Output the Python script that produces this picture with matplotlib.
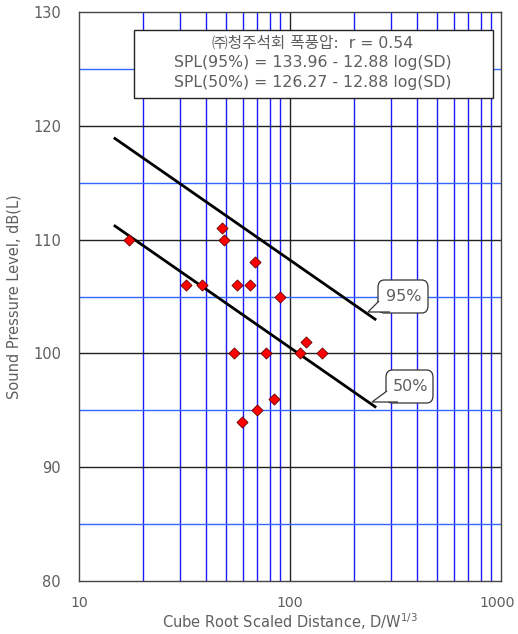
import numpy as np
import matplotlib
matplotlib.use("Agg")
import matplotlib.pyplot as plt
import matplotlib.transforms as mtransforms
from matplotlib.patches import FancyBboxPatch, Polygon

plt.rcParams['font.family'] = ['DejaVu Sans', 'Noto Sans CJK KR']

# Measured blasting noise: scaled distance vs. sound pressure level
sd = [17.3, 47.8, 48.8, 68.5, 32.0, 38.4, 56.2, 64.8, 89.7, 118.7,
      54.4, 76.7, 111.2, 142.2, 84.3, 69.5, 59.4]
spl = [110, 111, 110, 108, 106, 106, 106, 106, 105, 101,
       100, 100, 100, 100, 96, 95, 94]

# Regression: SPL = a - b log(SD)
slope = 12.88
a95 = 133.96
a50 = 126.27
r_value = 0.54
line_range = [14.8, 253.0]

title_lines = [
    "㈜청주석회 폭풍압:  r = 0.54",
    "SPL(95%) = 133.96 - 12.88 log(SD)",
    "SPL(50%) = 126.27 - 12.88 log(SD)",
]

txt = '#5f5f5f'

fig = plt.figure(figsize=(5.18, 6.34), dpi=100)
ax = fig.add_axes([79 / 518, 1 - 581 / 634, 422 / 518, 569 / 634])
ax.set_xscale('log')
ax.set_xlim(10, 1000)
ax.set_ylim(80, 130)

# grid: decades / tens in black, intermediate lines in blue
for d in (10, 100):
    for m in range(2, 10):
        ax.axvline(d * m, color='#1a1aff', lw=1.0, zorder=1)
ax.axvline(100, color='#222222', lw=1.0, zorder=1)
for y in range(85, 130, 10):
    ax.axhline(y, color='#3366ff', lw=1.0, zorder=1)
for y in range(90, 130, 10):
    ax.axhline(y, color='#222222', lw=1.0, zorder=1)

ax.set_xticks([10, 100, 1000])
ax.set_xticklabels(['10', '100', '1000'])
ax.set_yticks(range(80, 131, 10))
ax.minorticks_off()
ax.tick_params(axis='y', length=0, labelcolor=txt, labelsize=10.5, pad=13)
ax.tick_params(axis='x', length=0, labelcolor=txt, labelsize=10.2, pad=11)
# keep the right-most decade label inside the figure
last = ax.get_xticklabels()[-1]
last.set_transform(last.get_transform() +
                   mtransforms.ScaledTranslation(-4 / 100, 0, fig.dpi_scale_trans))
for s in ax.spines.values():
    s.set_color('#444444')
    s.set_linewidth(1.0)

xs = np.array(line_range)
ax.plot(xs, a95 - slope * np.log10(xs), color='black', lw=2.0, zorder=3)
ax.plot(xs, a50 - slope * np.log10(xs), color='black', lw=2.0, zorder=3)

ax.scatter(sd, spl, marker='D', s=32, facecolor='#ff0000',
           edgecolor='#660000', linewidths=0.6, zorder=4)

ax.set_xlabel('Cube Root Scaled Distance, D/W$^{1/3}$', color=txt,
              fontsize=10.5, labelpad=1)
ax.set_ylabel('Sound Pressure Level, dB(L)', color=txt, fontsize=10.5,
              labelpad=8)

# equation box
ft = fig.transFigure
bx0, by0, bx1, by1 = 134 / 518, 1 - 98 / 634, 493 / 518, 1 - 30 / 634
fig.patches.append(plt.Rectangle((bx0, by0), bx1 - bx0, by1 - by0,
                                 transform=ft, facecolor='white',
                                 edgecolor='#222222', lw=1.0, zorder=5))
for i, t in enumerate(title_lines):
    fig.text((bx0 + bx1) / 2 - 1 / 518, 1 - (43 + 19.5 * i) / 634, t,
             ha='center', va='center', fontsize=11.3, color=txt, zorder=6)


def callout(label, xy_box, tip):
    x0, y0, x1, y1 = xy_box
    box = FancyBboxPatch((x0 / 518, 1 - y1 / 634), (x1 - x0) / 518,
                         (y1 - y0) / 634,
                         boxstyle='round,pad=0,rounding_size=0.012',
                         transform=ft, facecolor='white', edgecolor='#333333',
                         lw=0.9, zorder=5)
    fig.patches.append(box)
    tail = Polygon([((x0 + 1) / 518, 1 - (y1 - 12) / 634),
                    (tip[0] / 518, 1 - tip[1] / 634),
                    ((x0 + 12) / 518, 1 - (y1 - 1) / 634)],
                   closed=False, transform=ft, facecolor='white',
                   edgecolor='#333333', lw=0.9, zorder=6)
    fig.patches.append(tail)
    fig.text(((x0 + x1) / 2 + 1) / 518, 1 - (y0 + y1) / 2 / 634, label,
             ha='center', va='center', fontsize=11.5, color=txt, zorder=7)


callout('95%', (378, 280, 428, 313), (368, 312))
callout('50%', (386, 370, 433, 403), (372, 402))

fig.savefig('out.png', dpi=100)
